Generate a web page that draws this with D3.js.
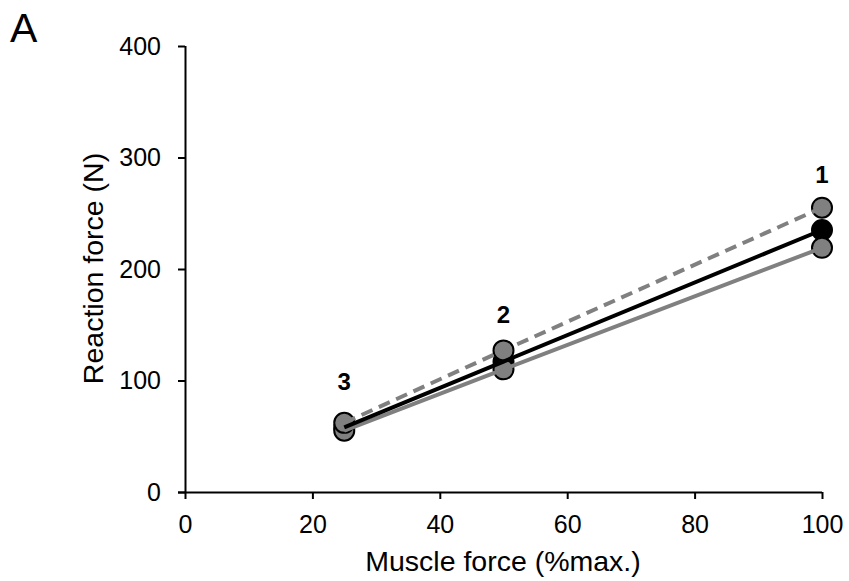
<!DOCTYPE html>
<html><head><meta charset="utf-8">
<script src="https://cdn.jsdelivr.net/npm/d3@7"></script>
<style>body{margin:0;background:#fff}svg{display:block}text{font-family:"Liberation Sans",Arial,sans-serif}</style>
</head><body>
<script>
const muscleForce = [25, 50, 100];
const seriesDashed = [62, 127, 255];
const seriesBlack = [58, 117, 235];
const seriesGray = [55, 110, 219];
const pointLabels = ["3", "2", "1"];
const xTicks = [0, 20, 40, 60, 80, 100];
const yTicks = [0, 100, 200, 300, 400];

const W = 849, H = 581;
const svg = d3.select("body").append("svg").attr("width", W).attr("height", H);
const x = d3.scaleLinear().domain([0, 100]).range([185, 822]);
const y = d3.scaleLinear().domain([0, 400]).range([492, 46]);

const gx = svg.append("g").attr("transform", "translate(0,492)")
  .call(d3.axisBottom(x).tickValues(xTicks).tickSize(7).tickSizeOuter(0).tickPadding(16));
const gy = svg.append("g").attr("transform", "translate(185,0)")
  .call(d3.axisLeft(y).tickValues(yTicks).tickSize(7).tickSizeOuter(0).tickPadding(17));
[gx, gy].forEach(g => {
  g.select(".domain").attr("stroke", "#000").attr("stroke-width", 2);
  g.selectAll(".tick line").attr("stroke", "#000").attr("stroke-width", 2);
  g.selectAll(".tick text").style("font-size", "25px").attr("fill", "#000");
});
gx.select(".domain").attr("d", `M178,0.5H${x(100)}`);
gy.select(".domain").attr("d", `M0.5,${y(400)}V${y(0)}`);

svg.append("text").attr("x", 503).attr("y", 571).attr("text-anchor", "middle")
  .style("font-size", "28.5px").text("Muscle force (%max.)");
svg.append("text").attr("transform", "translate(103,268.5) rotate(-90)").attr("text-anchor", "middle")
  .style("font-size", "28.5px").text("Reaction force (N)");
svg.append("text").attr("x", 10).attr("y", 42).style("font-size", "41px").text("A");

const series = [
  {v: seriesBlack, fill: "#000", stroke: "#000", dash: null},
  {v: seriesGray, fill: "#808080", stroke: "#808080", dash: null},
  {v: seriesDashed, fill: "#808080", stroke: "#808080", dash: "12,7"}
];
series.forEach(s => {
  svg.append("g").selectAll("circle").data(muscleForce).join("circle")
    .attr("cx", d => x(d)).attr("cy", (d, i) => y(s.v[i])).attr("r", 10)
    .attr("fill", s.fill).attr("stroke", "#000").attr("stroke-width", 2);
});
const line = v => d3.line().x(d => x(d)).y((d, i) => y(v[i]))(muscleForce);
[series[1], series[2], series[0]].forEach(s => {
  svg.append("path").attr("d", line(s.v)).attr("fill", "none")
    .attr("stroke", s.stroke).attr("stroke-width", 4)
    .attr("stroke-dasharray", s.dash);
});

const labelBaseline = [390, 323, 183];
svg.append("g").selectAll("text").data(muscleForce).join("text")
  .attr("x", d => x(d)).attr("y", (d, i) => labelBaseline[i])
  .attr("text-anchor", "middle").style("font-size", "24px").attr("font-weight", "bold")
  .text((d, i) => pointLabels[i]);
</script>
</body></html>
